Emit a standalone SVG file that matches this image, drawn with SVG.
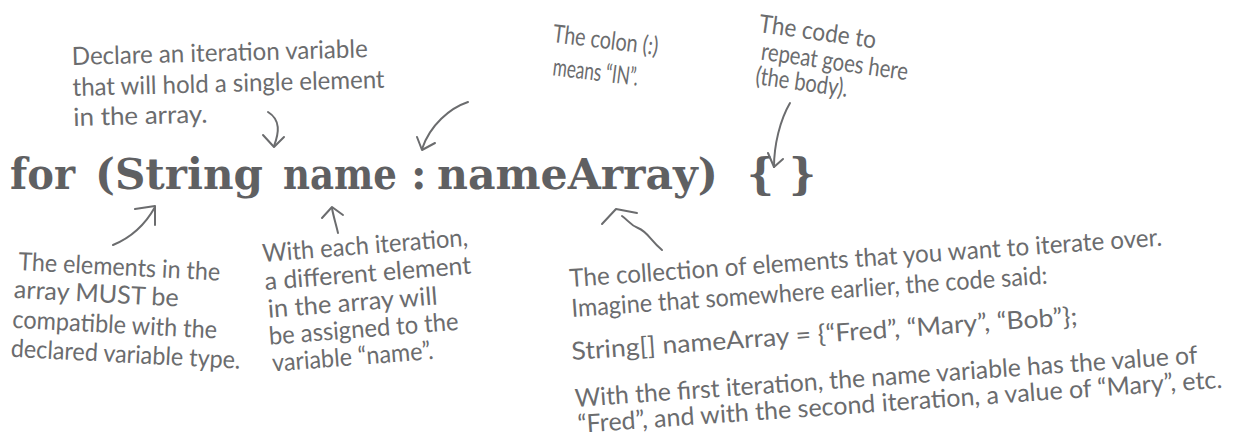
<svg xmlns="http://www.w3.org/2000/svg" width="1239" height="440" viewBox="0 0 1239 440">
  <style>
    .note { font-family: Lato, "Liberation Sans", sans-serif; font-size: 25px; fill: #6b6c6e; }
    .code { font-family: "DejaVu Serif", "Liberation Serif", serif; font-size: 42px; font-weight: bold; fill: #5f6062; }
    .arr { fill: none; stroke: #6b6c6e; stroke-width: 2; stroke-linecap: round; stroke-linejoin: round; }
  </style>
  <rect width="1239" height="440" fill="#ffffff"/>

  <g id="code">
    <text class="code" x="10" y="189" textLength="65" lengthAdjust="spacingAndGlyphs">for</text>
    <text class="code" x="95" y="189" textLength="168" lengthAdjust="spacingAndGlyphs">(String</text>
    <text class="code" x="283" y="189" textLength="114" lengthAdjust="spacingAndGlyphs">name</text>
    <text class="code" x="411" y="189">:</text>
    <text class="code" x="437" y="189" textLength="281" lengthAdjust="spacingAndGlyphs">nameArray)</text>
    <text class="code" x="747" y="189">{</text>
    <text class="code" x="789" y="189">}</text>
  </g>

  <g id="note-declare" transform="translate(72,65) rotate(-1.5)">
    <text class="note" x="0" y="0" textLength="296" lengthAdjust="spacingAndGlyphs">Declare an iteration variable</text>
    <text class="note" x="0" y="31" textLength="312" lengthAdjust="spacingAndGlyphs">that will hold a single element</text>
    <text class="note" x="0" y="61" textLength="134" lengthAdjust="spacingAndGlyphs">in the array.</text>
  </g>

  <g id="note-colon" transform="translate(552,42) rotate(7)">
    <text class="note" x="0" y="0" textLength="106" lengthAdjust="spacingAndGlyphs">The colon (:)</text>
    <text class="note" x="4" y="33" textLength="86" lengthAdjust="spacingAndGlyphs">means “IN”.</text>
  </g>

  <g id="note-body" transform="translate(758,32) rotate(8)">
    <text class="note" x="0" y="0" textLength="118" lengthAdjust="spacingAndGlyphs">The code to</text>
    <text class="note" x="6" y="27" textLength="148" lengthAdjust="spacingAndGlyphs">repeat goes here</text>
    <text class="note" x="4" y="52" textLength="93" lengthAdjust="spacingAndGlyphs">(the body).</text>
  </g>

  <g id="note-elements" transform="translate(18,270) rotate(3)">
    <text class="note" x="0" y="0" textLength="202" lengthAdjust="spacingAndGlyphs">The elements in the</text>
    <text class="note" x="-3" y="28" textLength="165" lengthAdjust="spacingAndGlyphs">array MUST be</text>
    <text class="note" x="-3" y="58" textLength="205" lengthAdjust="spacingAndGlyphs">compatible with the</text>
    <text class="note" x="-3" y="87" textLength="230" lengthAdjust="spacingAndGlyphs">declared variable type.</text>
  </g>

  <g id="note-iteration" transform="translate(263,262) rotate(-4.5)">
    <text class="note" x="0" y="0" textLength="206" lengthAdjust="spacingAndGlyphs">With each iteration,</text>
    <text class="note" x="0" y="28" textLength="207" lengthAdjust="spacingAndGlyphs">a different element</text>
    <text class="note" x="1" y="56" textLength="170" lengthAdjust="spacingAndGlyphs">in the array will</text>
    <text class="note" x="0" y="83" textLength="190" lengthAdjust="spacingAndGlyphs">be assigned to the</text>
    <text class="note" x="1" y="110" textLength="162" lengthAdjust="spacingAndGlyphs">variable “name”.</text>
  </g>

  <g id="note-collection" transform="translate(570,287) rotate(-4)">
    <text class="note" x="0" y="0" textLength="594" lengthAdjust="spacingAndGlyphs">The collection of elements that you want to iterate over.</text>
    <text class="note" x="0" y="30" textLength="477" lengthAdjust="spacingAndGlyphs">Imagine that somewhere earlier, the code said:</text>
    <text class="note" x="-3" y="73" textLength="507" lengthAdjust="spacingAndGlyphs">String[] nameArray = {“Fred”, “Mary”, “Bob”};</text>
    <text class="note" x="-3" y="120" textLength="624" lengthAdjust="spacingAndGlyphs">With the first iteration, the name variable has the value of</text>
    <text class="note" x="-2" y="146" textLength="646" lengthAdjust="spacingAndGlyphs">“Fred”, and with the second iteration, a value of “Mary”, etc.</text>
  </g>

  <g id="connectors">
    <path class="arr" d="M 268,112 C 281,120 279,133 274,146"/>
    <path class="arr" d="M 263,135 L 274,147 L 284,137"/>
    <path class="arr" d="M 468,102 C 450,108 430,125 422,149"/>
    <path class="arr" d="M 417,137 L 422,150 L 435,143"/>
    <path class="arr" d="M 790,103 C 780,120 774,145 774,167"/>
    <path class="arr" d="M 768,153 L 774,167 L 783,159"/>
    <path class="arr" d="M 113,245 C 130,238 145,225 155,207"/>
    <path class="arr" d="M 135,209 L 155,206 L 155,225"/>
    <path class="arr" d="M 338,233 C 336,224 333,215 332,208"/>
    <path class="arr" d="M 322,218 L 332,207 L 343,215"/>
    <path class="arr" d="M 662,250 C 650,240 648,232 638,228 C 630,225 628,220 622,216"/>
    <path class="arr" d="M 602,224 L 616,209 L 637,213"/>
  </g>
</svg>
